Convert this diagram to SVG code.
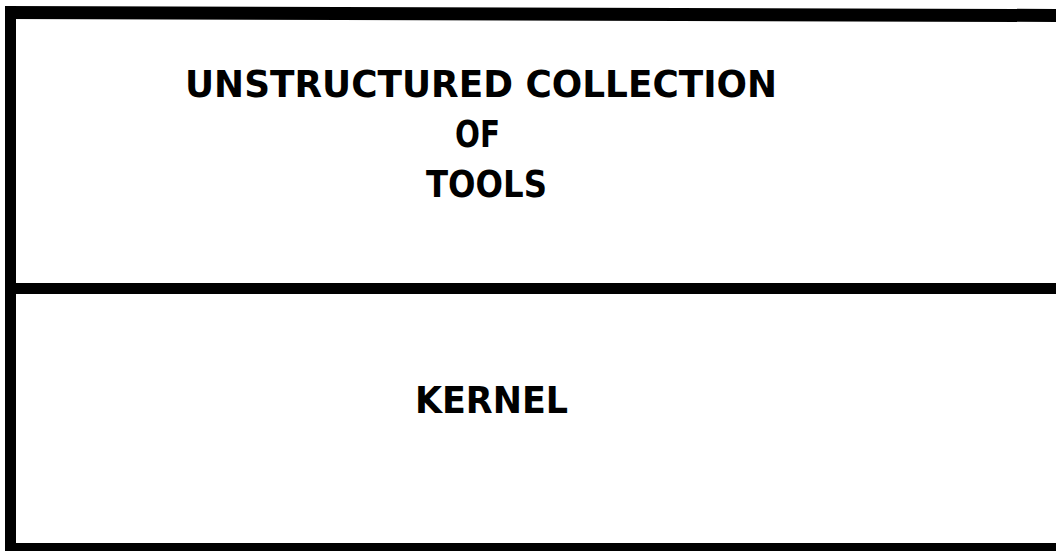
<svg xmlns="http://www.w3.org/2000/svg" width="1056" height="551" viewBox="0 0 1056 551">
<style>
.t{font-family:"DejaVu Sans","Liberation Sans",sans-serif;font-weight:bold;font-size:37px;fill:#000}
.b{fill:#000}
</style>
<rect width="1056" height="551" fill="#fff"/>
<g id="frame">
<polygon class="b" points="5,6 1060,9 1060,22 5,19"/>
<rect class="b" x="5" y="6" width="11" height="545"/>
<rect class="b" x="5" y="543" width="1055" height="10"/>
</g>
<g id="tools">
<text class="t" x="185" y="97" textLength="592" lengthAdjust="spacingAndGlyphs">UNSTRUCTURED COLLECTION</text>
<text class="t" x="455" y="147" textLength="45" lengthAdjust="spacingAndGlyphs">OF</text>
<text class="t" x="426" y="197" textLength="121" lengthAdjust="spacingAndGlyphs">TOOLS</text>
</g>
<g id="connectors">
<rect class="b" x="5" y="283" width="1055" height="11"/>
</g>
<g id="kernel">
<text class="t" x="415" y="413" textLength="153" lengthAdjust="spacingAndGlyphs">KERNEL</text>
</g>
</svg>
